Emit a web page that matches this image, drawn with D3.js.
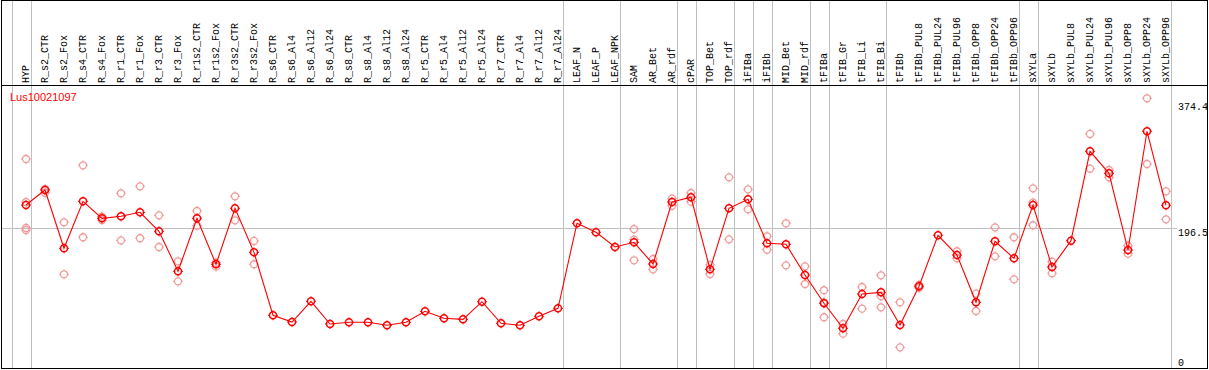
<!DOCTYPE html>
<html>
<head>
<meta charset="utf-8">
<script src="https://cdn.jsdelivr.net/npm/d3@7"></script>
<style>
html,body{margin:0;padding:0;background:#fff;}
svg{display:block;}
</style>
</head>
<body>
<svg id="chart" width="1209" height="370"></svg>
<script>
const categories = ["HYP","R_s2_CTR","R_s2_Fox","R_s4_CTR","R_s4_Fox","R_r1_CTR","R_r1_Fox","R_r3_CTR","R_r3_Fox","R_r1s2_CTR","R_r1s2_Fox","R_r3s2_CTR","R_r3s2_Fox","R_s6_CTR","R_s6_Al4","R_s6_Al12","R_s6_Al24","R_s8_CTR","R_s8_Al4","R_s8_Al12","R_s8_Al24","R_r5_CTR","R_r5_Al4","R_r5_Al12","R_r5_Al24","R_r7_CTR","R_r7_Al4","R_r7_Al12","R_r7_Al24","LEAF_N","LEAF_P","LEAF_NPK","SAM","AR_Bet","AR_rdf","cPAR","TOP_Bet","TOP_rdf","iFIBa","iFIBb","MID_Bet","MID_rdf","tFIBa","tFIB_Gr","tFIB_Li","tFIB_Bi","tFIBb","tFIBb_PUL8","tFIBb_PUL24","tFIBb_PUL96","tFIBb_OPP8","tFIBb_OPP24","tFIBb_OPP96","sXYLa","sXYLb","sXYLb_PUL8","sXYLb_PUL24","sXYLb_PUL96","sXYLb_OPP8","sXYLb_OPP24","sXYLb_OPP96"];

const means = [229.4,250.5,168.5,234.6,210.7,213.5,219.1,192.4,136.1,210.7,146.0,224.8,162.8,
  74.2,64.7,93.9,61.9,64.3,64.3,60.1,64.3,79.8,70.0,68.5,93.3,62.9,60.1,72.8,84.0,
  203.7,191.0,170.3,176.9,146.4,233.6,240.3,138.9,224.8,237.4,175.5,174.1,130.9,
  91.1,55.9,104.2,106.5,60.5,115.0,186.8,159.0,92.5,178.3,154.4,
  229.4,142.2,179.2,305.0,274.0,166.1,333.2,229.0];

const replicates = [
  [294.2,233.6,197.1,194.2],[251.9,246.7],[205.1,131.9],[285.3,184.0],[213.2,208.3],
  [245.9,179.7],[255.7,182.6],[214.9,170.3],[150.2,122.0],[221.0,200.3],[148.2,142.6],
  [241.7,207.9],[178.8,146.0],
  [],[],[],[],[],[],[],[],[],[],[],[],[],[],[],[],
  [],[],[],
  [195.6,180.6,151.6],[153.4,138.9],[238.3,228.4],[246.3,234.1],[145.0,132.3],
  [268.4,181.1],[251.5,223.4],[185.4,166.5],[203.7,144.5],[143.1,118.2],
  [109.4,92.5,71.4],[61.9,48.3],[114.0,83.5],[130.5,101.3,85.4],[92.5,29.1],
  [116.8,113.0],[],[164.3,154.4],[104.6,80.2],[198.0,157.2],[184.0,124.8],
  [252.9,232.7,200.9],[149.6,133.3],[],[329.4,280.5],[278.7,268.4],[172.1,160.9],
  [379.6,287.1],[248.7,209.3]
];

const yTicks = [374.4, 196.5, 0];
const groupStarts = ["HYP","R_s2_CTR","LEAF_N","SAM","cPAR","TOP_Bet","iFIBa","iFIBb","MID_Bet","tFIBa","tFIB_Gr","tFIBb","sXYLa","sXYLb"];
const title = "Lus10021097";

const svg = d3.select("#chart");
const x = d3.scalePoint().domain(categories).range([26, 1166]);
const y = d3.scaleLinear().domain([0, 374.4]).range([368, 102]);
const step = x.step();
const mono = "'Liberation Mono', 'DejaVu Sans Mono', monospace";

// frame
svg.append("rect").attr("x",1.5).attr("y",0.5).attr("width",1206).attr("height",368)
  .attr("fill","none").attr("stroke","#000").attr("stroke-width",1);

// vertical separators
const sepX = groupStarts.map(c => x(c) - step + 4.5);
sepX.push(x(categories[categories.length-1]) + 4.5);
svg.append("g").selectAll("line").data(sepX).join("line")
  .attr("x1", d => Math.round(d)+0.5).attr("x2", d => Math.round(d)+0.5)
  .attr("y1", 1).attr("y2", 368)
  .attr("stroke","#c0c0c0").attr("stroke-width",1);

// horizontal mid gridline
svg.append("line").attr("x1",2).attr("x2",1177)
  .attr("y1", Math.round(y(196.5))+0.5).attr("y2", Math.round(y(196.5))+0.5)
  .attr("stroke","#c0c0c0").attr("stroke-width",1);

// header separator
svg.append("line").attr("x1",1).attr("x2",1208).attr("y1",85.5).attr("y2",85.5)
  .attr("stroke","#000").attr("stroke-width",1);

// category labels
svg.append("g").selectAll("text").data(categories).join("text")
  .attr("transform", d => `translate(${x(d)+3},83) rotate(-90)`)
  .attr("font-family", mono)
  .attr("font-size","10px").attr("fill","#000")
  .text(d => d);

// y tick labels
svg.append("g").selectAll("text").data(yTicks).join("text")
  .attr("x", 1178)
  .attr("y", d => Math.min(y(d) + 8, 366))
  .attr("font-family", mono)
  .attr("font-size","10px").attr("fill","#000")
  .text(d => d === 0 ? "0" : d.toFixed(1));

// title
svg.append("text").attr("x",10).attr("y",101)
  .attr("font-family","'Liberation Sans', Arial, sans-serif")
  .attr("font-size","11px").attr("fill","#ff0000").text(title);

function marker(g, color, sw) {
  g.append("circle").attr("r",3.5).attr("fill","none").attr("stroke",color).attr("stroke-width",sw);
  g.append("path").attr("d","M0,-3.5V-5M0,3.5V5M-3.5,0H-5M3.5,0H5")
    .attr("stroke",color).attr("stroke-width",1).attr("fill","none");
}

// replicates
const repData = [];
categories.forEach((c,i) => replicates[i].forEach(v => repData.push({c, v})));
svg.append("g").selectAll("g").data(repData).join("g")
  .attr("transform", d => `translate(${x(d.c)},${y(d.v)})`)
  .each(function(){ marker(d3.select(this), "#f09a9a", 1.3); });

// mean line
const line = d3.line().x((d,i) => x(categories[i])).y(d => y(d));
svg.append("path").datum(means).attr("d", line)
  .attr("fill","none").attr("stroke","#ff0000").attr("stroke-width",1.1);

// mean markers
svg.append("g").selectAll("g").data(means).join("g")
  .attr("transform", (d,i) => `translate(${x(categories[i])},${y(d)})`)
  .each(function(){ marker(d3.select(this), "#ff0000", 1.5); });
</script>
</body>
</html>
